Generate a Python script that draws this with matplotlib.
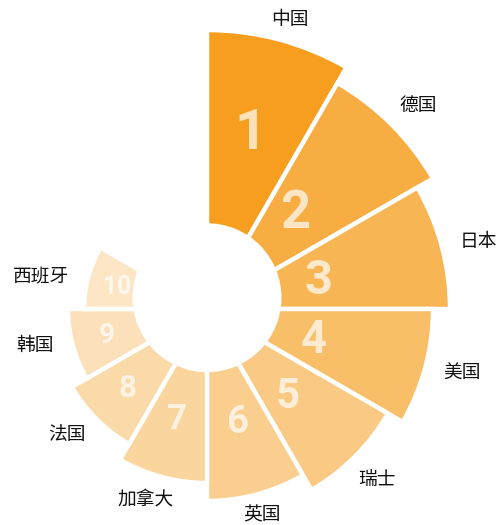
# Packages
import numpy as np
import matplotlib
matplotlib.use("Agg")
import matplotlib.pyplot as plt
from matplotlib.patches import Circle

# data
countries = ["中国", "德国", "日本", "美国", "瑞士", "英国", "加拿大", "法国", "韩国", "西班牙"]
ranks = ["1", "2", "3", "4", "5", "6", "7", "8", "9", "10"]
values = [279, 261, 243, 226, 209, 192, 174, 156, 139, 123]

# styling
base_color = "#F79E1E"
alphas = [1.0, 0.84, 0.76, 0.67, 0.55, 0.5, 0.43, 0.38, 0.31, 0.25]
num_r = [180, 130, 115, 111, 119, 117, 114, 112, 104, 93]
num_angle = [14, 43, 76, 106, 137, 165, 195, 225, 255, 284]
label_angle = [16, 46, 76, 104, 135, 165, 198, 228, 258, 281]
label_size = 13.5

plt.rcParams['font.family'] = ['Noto Sans CJK SC', 'DejaVu Sans']

fig = plt.figure(figsize=(4.99, 5.25), dpi=100)
# polar axes centred at pixel (207, 309), 1 data unit = 1 px
rmax = 300
cx, cy = 207, 525 - 309
ax = fig.add_axes([(cx - rmax) / 499, (cy - rmax) / 525, 2 * rmax / 499, 2 * rmax / 525],
                  projection="polar")
ax.set_theta_zero_location("N")
ax.set_theta_direction(-1)
ax.set_ylim(0, rmax)
ax.set_axis_off()

step = 30
thetas = np.deg2rad(step / 2 + step * np.arange(len(values)))
bars = ax.bar(thetas, values, width=np.deg2rad(step), bottom=0,
              edgecolor="white", linewidth=3.2, zorder=2)
for bar, a in zip(bars, alphas):
    bar.set_facecolor(matplotlib.colors.to_rgba(base_color, a))

# white hole in the middle (sits a bit above the wedge centre)
hole = Circle((0.5, 0.5 + 11.3 / (2 * rmax)), 74.5 / (2 * rmax), transform=ax.transAxes,
              facecolor="white", edgecolor="none", zorder=3, clip_on=False)
ax.add_patch(hole)

# rank numbers inside the wedges
for i, rank in enumerate(ranks):
    ax.text(np.deg2rad(num_angle[i]), num_r[i], rank, family="Roboto", weight="bold",
            fontsize=values[i] * 0.145, color="white", alpha=0.7,
            ha="center", va="center", zorder=4)

# country names outside, centred and pushed out by their own half size
px = label_size * 100 / 72
for i, name in enumerate(countries):
    th = np.deg2rad(label_angle[i])
    s, c = abs(np.sin(th)), abs(np.cos(th))
    half = s * len(name) * px / 2 + c * px / 2
    pad = 7 + 10 * s ** 2
    ax.text(th, values[i] + pad + half, name, fontsize=label_size, color="#111111",
            ha="center", va="center", zorder=4)

plt.savefig("out.png", dpi=100)
